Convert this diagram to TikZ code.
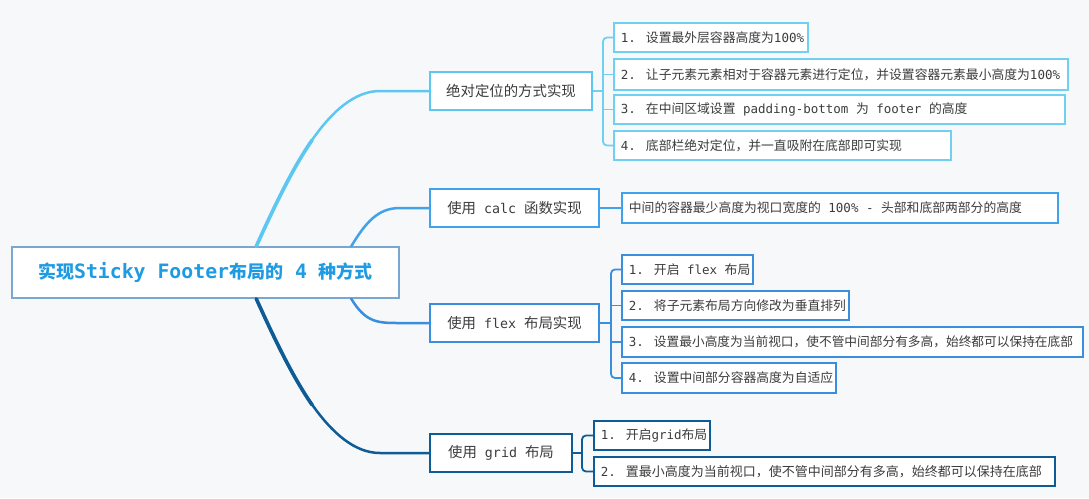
\documentclass[tikz,border=0pt]{standalone}
\usepackage{fontspec}
\setmainfont{Noto Sans CJK SC}
\newfontfamily\mn{DejaVu Sans Mono}
\definecolor{bg}{HTML}{F7F8FA}
\definecolor{cA}{HTML}{5CC8F2}
\definecolor{lA}{HTML}{6FD0F2}
\definecolor{cB}{HTML}{3FA2EA}
\definecolor{cC}{HTML}{3A8EDE}
\definecolor{cD}{HTML}{0D5C96}
\definecolor{rootb}{HTML}{7AA7D1}
\definecolor{roott}{HTML}{1E9BE3}
\definecolor{txt}{HTML}{3C3C3C}
\newcommand\LM[1]{{\mn\fontsize{12.5}{15}\selectfont #1}}
\newcommand\BM[1]{{\mn\fontsize{13.3}{16}\selectfont #1}}
\newcommand\RM[1]{{\mn\bfseries\fontsize{19.8}{23}\selectfont #1}}
\newcommand\LB[2]{\makebox[#1][l]{#2}}
\begin{document}
\begin{tikzpicture}[x=1pt,y=-1pt,
  rootbox/.style={draw=rootb,line width=1.5pt,fill=white,minimum width=387pt,minimum height=51pt,inner sep=0pt,
    text=roott,font=\bfseries\fontsize{18}{22}\selectfont},
  branch/.style={draw=#1,line width=2pt,fill=white,minimum height=38pt,inner sep=0pt,text=txt,font=\fontsize{14.4}{17}\selectfont},
  leaf/.style={draw=#1,line width=1.8pt,fill=white,minimum height=29pt,inner xsep=7pt,inner ysep=0pt,anchor=west,text=txt,font=\fontsize{12.8}{15}\selectfont},
  curve/.style={draw=#1,line width=2.5pt,line cap=round},
  thick curve/.style={draw=#1,line width=3.6pt,line cap=round},
  brk/.style={draw=#1,line width=1.8pt,rounded corners=4pt}
]
\fill[bg] (0,0) rectangle (1089,498);
\useasboundingbox (0,0) rectangle (1089,498);

% root
\node[rootbox] (root) at (205.5,272.5) {实现\RM{Sticky Footer}布局的\RM{ 4 }种方式};

% branches
\node[branch=cA,minimum width=162pt] (b1) at (511,91) {绝对定位的方式实现};
\node[branch=cB,minimum width=169pt] (b2) at (514.5,208) {使用\BM{ calc }函数实现};
\node[branch=cC,minimum width=169pt] (b3) at (514.5,323) {使用\BM{ flex }布局实现};
\node[branch=cD,minimum width=142pt] (b4) at (501,453) {使用\BM{ grid }布局};

% leaves branch 1
\node[leaf=lA,minimum height=29pt] (l11) at (613,37.5) {\LB{180pt}{\LM{1. }设置最外层容器高度为\LM{100\%}}};
\node[leaf=lA,minimum height=31pt] (l12) at (613,74.5) {\LB{440pt}{\LM{2. }让子元素元素相对于容器元素进行定位，并设置容器元素最小高度为\LM{100\%}}};
\node[leaf=lA] (l13) at (613,109.5) {\LB{437pt}{\LM{3. }在中间区域设置\LM{ padding-bottom }为\LM{ footer }的高度}};
\node[leaf=lA] (l14) at (613,145.5) {\LB{323pt}{\LM{4. }底部栏绝对定位，并一直吸附在底部即可实现}};

% leaf branch 2
\node[leaf=cB,minimum height=30pt] (l21) at (621,208) {\LB{422pt}{中间的容器最少高度为视口宽度的\LM{ 100\% - }头部和底部两部分的高度}};

% leaves branch 3
\node[leaf=cC] (l31) at (621,269.5) {\LB{117pt}{\LM{1. }开启\LM{ flex }布局}};
\node[leaf=cC] (l32) at (621,305.5) {\LB{213pt}{\LM{2. }将子元素布局方向修改为垂直排列}};
\node[leaf=cC,minimum height=30pt] (l33) at (621,342) {\LB{447pt}{\LM{3. }{\fontsize{12.7}{15}\selectfont 设置最小高度为当前视口，使不管中间部分有多高，始终都可以保持在底部}}};
\node[leaf=cC,minimum height=30pt] (l34) at (621,378) {\LB{200pt}{\LM{4. }设置中间部分容器高度为自适应}};

% leaves branch 4
\node[leaf=cD] (l41) at (593,435.5) {\LB{102pt}{\LM{1. }开启\LM{grid}布局}};
\node[leaf=cD] (l42) at (593,471.5) {\LB{447pt}{\LM{2. }{\fontsize{13}{15}\selectfont 置最小高度为当前视口，使不管中间部分有多高，始终都可以保持在底部}}};

% main curves
\draw[curve=cA] ([xshift=245pt]root.north west) .. controls (290,170) and (330,91) .. (380,91) -- (b1.west);
\draw[thick curve=cA] ([xshift=245pt]root.north west) .. controls (273.5,208.5) and (291.75,169.5) .. (312.1,140.1);
\draw[curve=cB] ([xshift=340pt]root.north west) .. controls (366,222) and (378,208) .. (400,208) -- (b2.west);
\draw[curve=cC] ([xshift=340pt]root.south west) .. controls (366,323) and (378,323) .. (400,323) -- (b3.west);
\draw[curve=cD] ([xshift=245pt]root.south west) .. controls (290,375) and (330,453) .. (380,453) -- (b4.west);
\draw[thick curve=cD] ([xshift=245pt]root.south west) .. controls (273.5,336.5) and (291.75,375.5) .. (312.1,404.9);

% brackets
\coordinate (k1) at (603,91);
\coordinate (k3) at (611,323);
\coordinate (k4) at (582,453);
\draw[brk=lA] (b1.east) -- (k1);
\draw[brk=lA] (l11.west) -| (k1) |- (l14.west);
\draw[brk=lA] (l12.west -| k1) -- (l12.west);
\draw[brk=lA] (l13.west -| k1) -- (l13.west);

\draw[brk=cB] (b2.east) -- (l21.west);

\draw[brk=cC] (b3.east) -- (k3);
\draw[brk=cC] (l31.west) -| (k3) |- (l34.west);
\draw[brk=cC] (l32.west -| k3) -- (l32.west);
\draw[brk=cC] (l33.west -| k3) -- (l33.west);

\draw[brk=cD] (b4.east) -- (k4);
\draw[brk=cD] (l41.west) -| (k4) |- (l42.west);
\end{tikzpicture}
\end{document}
